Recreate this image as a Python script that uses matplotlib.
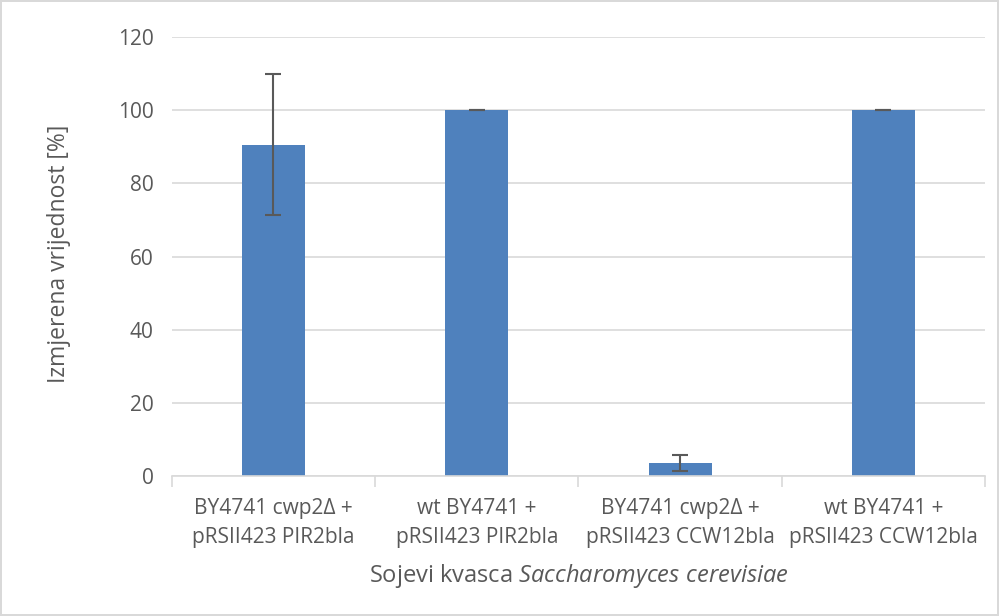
import numpy as np
import matplotlib
matplotlib.use("Agg")
import matplotlib.pyplot as plt

# Data
categories = ["BY4741 cwp2\u0394 +\npRSII423 PIR2bla",
              "wt BY4741 +\npRSII423 PIR2bla",
              "BY4741 cwp2\u0394 +\npRSII423 CCW12bla",
              "wt BY4741 +\npRSII423 CCW12bla"]
values = [90.6, 100.0, 3.6, 100.0]
errors = [19.2, 0.0, 2.1, 0.0]
yticks = [0, 20, 40, 60, 80, 100, 120]

plt.rcParams['font.family'] = ['Open Sans', 'DejaVu Sans']
plt.rcParams['mathtext.fontset'] = 'custom'
plt.rcParams['mathtext.it'] = 'Open Sans:italic'
plt.rcParams['mathtext.rm'] = 'Open Sans'

txt = '#595959'
fig = plt.figure(figsize=(9.99, 6.16), dpi=100)
fig.patch.set_edgecolor('#d9d9d9')
fig.patch.set_linewidth(1.5)
ax = fig.add_axes([0.172, 0.227, 0.814, 0.713])

x = np.arange(len(categories))
ax.bar(x, values, width=0.31, color='#4f81bd', zorder=2)
ax.errorbar(x, values, yerr=errors, fmt='none', ecolor='#595959',
            elinewidth=1.5, capsize=6, capthick=1.5, zorder=3)

ax.set_xlim(-0.5, len(categories) - 0.5)
ax.set_ylim(0, 120)
ax.set_yticks(yticks)
ax.yaxis.grid(True, color='#d9d9d9', linewidth=1.2, zorder=0)
ax.set_axisbelow(True)
for s in ['top', 'right', 'left']:
    ax.spines[s].set_visible(False)
ax.spines['bottom'].set_color('#d9d9d9')
ax.spines['bottom'].set_linewidth(1.2)

ax.set_xticks(x)
ax.set_xticklabels(categories, fontsize=15, color=txt, linespacing=1.5)
ax.tick_params(axis='x', length=0, pad=16)
ax.set_xticks(np.arange(-0.5, len(categories)), minor=True)
ax.tick_params(axis='x', which='minor', length=8, color='#d9d9d9', width=1.2)
ax.tick_params(axis='y', length=0, labelsize=15, labelcolor=txt, pad=13)

ax.set_ylabel("Izmjerena vrijednost [%]", fontsize=16.5, color=txt)
ax.yaxis.set_label_coords(-0.124, 0.506)
ax.set_xlabel(r"Sojevi kvasca $\mathit{Saccharomyces\ cerevisiae}$",
              fontsize=17, color=txt, labelpad=10)

fig.savefig("out.png", dpi=100)
